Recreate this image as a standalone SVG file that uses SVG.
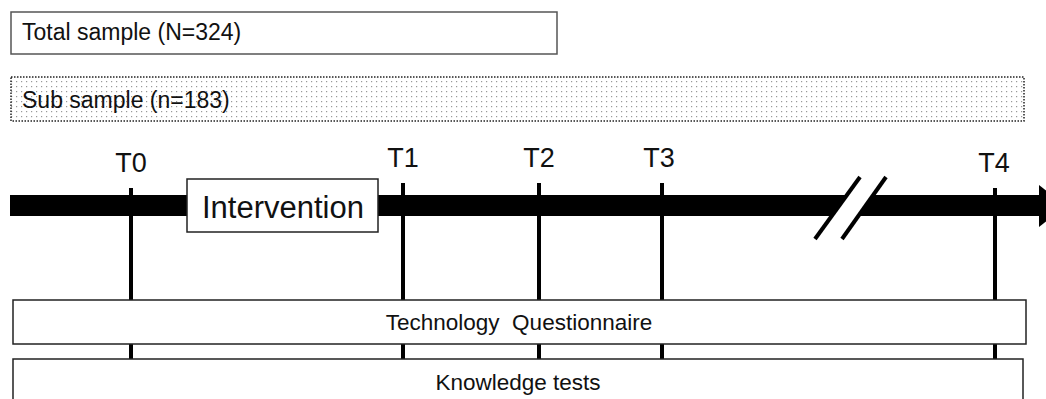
<svg xmlns="http://www.w3.org/2000/svg" width="1046" height="399" viewBox="0 0 1046 399">
<style>
text{font-family:"Liberation Sans",Arial,sans-serif;fill:#111}
.box{fill:#fff;stroke:#222;stroke-width:1.5}
.tick{stroke:#000;stroke-width:4}
.lbl{font-size:27px;text-anchor:middle}
.band{font-size:22.5px;text-anchor:middle}
</style>
<defs>
<pattern id="dots" width="5" height="5" patternUnits="userSpaceOnUse">
<rect width="5" height="5" fill="#fff"/>
<rect x="1" y="1" width="1.2" height="1.2" fill="#999"/>
</pattern>
</defs>
<g id="total-sample">
<rect x="11" y="12" width="546" height="42" fill="#fff" stroke="#555" stroke-width="1.5"/>
<text x="22" y="40" font-size="23">Total sample (N=324)</text>
</g>
<g id="sub-sample">
<rect x="11" y="77" width="1013" height="44" fill="url(#dots)" stroke="#222" stroke-width="1.5" stroke-dasharray="1.5 1.5"/>
<text x="22" y="108" font-size="23">Sub sample (n=183)</text>
</g>
<g id="timeline">
<rect x="10" y="195" width="1032" height="21" fill="#000"/>
<polygon points="1039,185 1066,206 1039,227" fill="#000"/>
<polygon points="847,193 875,193 858,218 830,218" fill="#fff"/>
<line x1="815" y1="239" x2="860" y2="177" stroke="#000" stroke-width="4"/>
<line x1="842" y1="239" x2="886" y2="177" stroke="#000" stroke-width="4"/>
</g>
<g id="connectors">
<line class="tick" x1="131" y1="188" x2="131" y2="360"/>
<line class="tick" x1="403" y1="183" x2="403" y2="360"/>
<line class="tick" x1="539" y1="183" x2="539" y2="360"/>
<line class="tick" x1="662" y1="183" x2="662" y2="360"/>
<line class="tick" x1="995" y1="188" x2="995" y2="360"/>
</g>
<g id="labels">
<text class="lbl" x="131" y="172">T0</text>
<text class="lbl" x="403" y="167">T1</text>
<text class="lbl" x="539" y="167">T2</text>
<text class="lbl" x="659" y="167">T3</text>
<text class="lbl" x="994" y="172">T4</text>
</g>
<g id="intervention">
<rect class="box" x="187" y="179" width="191" height="53"/>
<text x="283" y="218" font-size="31" text-anchor="middle">Intervention</text>
</g>
<g id="technology-questionnaire">
<rect class="box" x="13" y="300" width="1013" height="44"/>
<text class="band" x="519" y="330" xml:space="preserve">Technology  Questionnaire</text>
</g>
<g id="knowledge-tests">
<rect class="box" x="13" y="359" width="1010" height="50"/>
<text class="band" x="518" y="390">Knowledge tests</text>
</g>
</svg>
